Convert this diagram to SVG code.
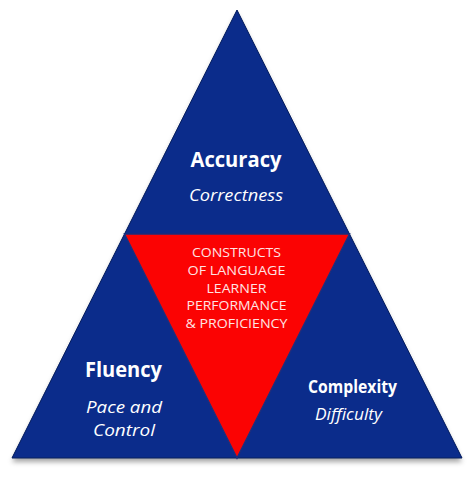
<svg xmlns="http://www.w3.org/2000/svg" width="474" height="485" viewBox="0 0 474 485">
  <defs>
    <filter id="shadow" x="-10%" y="-10%" width="120%" height="125%">
      <feDropShadow dx="0" dy="4" stdDeviation="2.5" flood-color="#000" flood-opacity="0.35"/>
    </filter>
  </defs>
  <style>
    .blue { fill: #0b2c8b; stroke: #08205f; stroke-width: 1; }
    .red { fill: #fb0303; stroke: #1a2f80; stroke-width: 1.5; }
    .title { font-family: "Open Sans", "Liberation Sans", sans-serif; font-weight: bold; fill: #ffffff; text-anchor: middle; }
    .sub { font-family: "Open Sans", "Liberation Sans", sans-serif; font-style: italic; fill: #ffffff; text-anchor: middle; }
    .center { font-family: "Open Sans", "Liberation Sans", sans-serif; font-size: 13.5px; fill: #ffe4e4; text-anchor: middle; }
  </style>
  <rect width="474" height="485" fill="#ffffff"/>
  <g id="pyramid" filter="url(#shadow)">
    <polygon points="237,10 462,458 12,458" fill="#0b2c8b"/>
  </g>
  <g id="connectors"></g>
  <g id="accuracy">
    <polygon class="blue" points="237,10 349.5,234 124.5,234"/>
    <text class="title" x="236" y="167" font-size="21" textLength="91" lengthAdjust="spacingAndGlyphs">Accuracy</text>
    <text class="sub" x="236" y="201" font-size="16.5" textLength="94" lengthAdjust="spacingAndGlyphs">Correctness</text>
  </g>
  <g id="fluency">
    <polygon class="blue" points="124.5,234 237,458 12,458"/>
    <text class="title" x="123.5" y="377" font-size="20.5" textLength="77" lengthAdjust="spacingAndGlyphs">Fluency</text>
    <text class="sub" x="124" y="413" font-size="17" textLength="76" lengthAdjust="spacingAndGlyphs">Pace and</text>
    <text class="sub" x="124" y="436" font-size="17" textLength="62" lengthAdjust="spacingAndGlyphs">Control</text>
  </g>
  <g id="complexity">
    <polygon class="blue" points="349.5,234 462,458 237,458"/>
    <text class="title" x="352.5" y="393" font-size="17.5" textLength="89" lengthAdjust="spacingAndGlyphs">Complexity</text>
    <text class="sub" x="348.5" y="420" font-size="16.5" textLength="67" lengthAdjust="spacingAndGlyphs">Difficulty</text>
  </g>
  <g id="constructs">
    <polygon class="red" points="124.5,234 349.5,234 237,458"/>
    <text class="center" x="236.5" y="257" textLength="89" lengthAdjust="spacingAndGlyphs">CONSTRUCTS</text>
    <text class="center" x="236.5" y="275" textLength="98" lengthAdjust="spacingAndGlyphs">OF LANGUAGE</text>
    <text class="center" x="236.5" y="293" textLength="60" lengthAdjust="spacingAndGlyphs">LEARNER</text>
    <text class="center" x="236.5" y="310" textLength="100" lengthAdjust="spacingAndGlyphs">PERFORMANCE</text>
    <text class="center" x="236.5" y="328" textLength="102" lengthAdjust="spacingAndGlyphs">&amp; PROFICIENCY</text>
  </g>
</svg>
